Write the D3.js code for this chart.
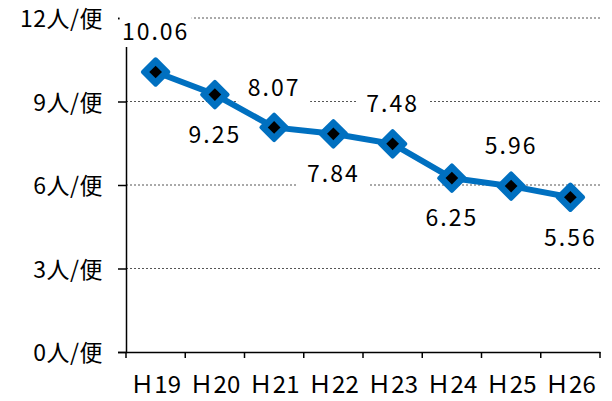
<!DOCTYPE html>
<html><head><meta charset="utf-8">
<script src="https://cdn.jsdelivr.net/npm/d3@7"></script>
<style>body{margin:0;background:#fff}svg{display:block}text{font-family:"Noto Sans CJK JP","Noto Sans",sans-serif;fill:#000}</style>
</head><body><svg id="c" width="612" height="401"></svg>
<script>
const categories = ["Ｈ19","Ｈ20","Ｈ21","Ｈ22","Ｈ23","Ｈ24","Ｈ25","Ｈ26"];
const values = [10.06, 9.25, 8.07, 7.84, 7.48, 6.25, 5.96, 5.56];
const labels = ["10.06","9.25","8.07","7.84","7.48","6.25","5.96","5.56"];
const yTicks = [0, 3, 6, 9, 12];
const yTickLabels = ["0人/便","3人/便","6人/便","9人/便","12人/便"];

const svg = d3.select("#c");
const L = 126, R = 600, T = 18, B = 352;
const x = d3.scaleBand().domain(categories).range([L, R]);
const y = d3.scaleLinear().domain([0, 12]).range([B, T]);

// gridlines
svg.append("g").selectAll("line").data(yTicks.filter(d => d > 0)).join("line")
  .attr("x1", L).attr("x2", R).attr("y1", d => y(d)).attr("y2", d => y(d))
  .attr("stroke", "#555").attr("stroke-width", 1).attr("stroke-dasharray", "2,2");

// y axis
const ya = svg.append("g").attr("transform", `translate(${L},0)`)
  .call(d3.axisLeft(y).tickValues(yTicks).tickSize(8).tickPadding(15).tickFormat((d, i) => yTickLabels[i]));
ya.attr("font-size", null).attr("font-family", null);
ya.select(".domain").attr("stroke", "#000").attr("stroke-width", 1.5);
ya.selectAll(".tick line").attr("stroke", "#000").attr("stroke-width", 1.5);
ya.selectAll("text").style("font-size", "23px").style("letter-spacing", "0.5px").attr("dy", "0.38em");

// x axis
const xa = svg.append("g").attr("transform", `translate(0,${B})`)
  .call(d3.axisBottom(x).tickSize(0).tickPadding(24));
xa.attr("font-size", null).attr("font-family", null);
xa.select(".domain").attr("stroke", "#000").attr("stroke-width", 1.5);
xa.selectAll("text").style("font-size", "24px");
const bounds = categories.map(c => x(c)).concat([R]);
xa.selectAll(".bt").data(bounds).join("line").attr("class", "bt")
  .attr("x1", d => d).attr("x2", d => d).attr("y1", 0).attr("y2", 6)
  .attr("stroke", "#000").attr("stroke-width", 1.5);

const cx = c => x(c) + x.bandwidth() / 2;

// line
svg.append("path").datum(values)
  .attr("d", d3.line().x((d, i) => cx(categories[i])).y(d => y(d)))
  .attr("fill", "none").attr("stroke", "#0070C0").attr("stroke-width", 6);

// markers
const m = svg.append("g").selectAll("g").data(values).join("g")
  .attr("transform", (d, i) => `translate(${cx(categories[i])},${y(d)})`);
m.append("rect").attr("x", -9).attr("y", -9).attr("width", 18).attr("height", 18)
  .attr("transform", "rotate(45)").attr("fill", "#0070C0").attr("stroke", "#0070C0")
  .attr("stroke-width", 4).attr("stroke-linejoin", "round");
m.append("rect").attr("x", -4.5).attr("y", -4.5).attr("width", 9).attr("height", 9)
  .attr("transform", "rotate(45)").attr("fill", "#000");

// data labels
const lg = svg.append("g").selectAll("g").data(values).join("g")
  .attr("transform", (d, i) => `translate(${cx(categories[i])},${y(d) + (i % 2 === 0 ? -40 : 40)})`);
lg.append("rect").attr("x", -36).attr("y", -15).attr("width", 72).attr("height", 30).attr("fill", "#fff");
lg.append("text").attr("text-anchor", "middle").attr("dy", "0.36em")
  .style("font-size", "23px").style("letter-spacing", "2px")
  .text((d, i) => labels[i]);
</script></body></html>
